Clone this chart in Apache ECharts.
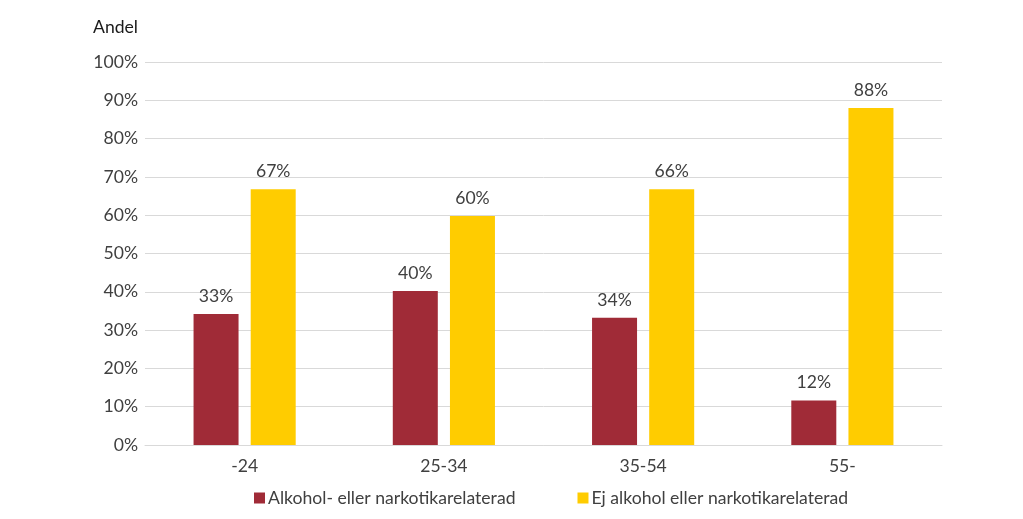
<!DOCTYPE html>
<html><head><meta charset="utf-8">
<script src="https://cdn.jsdelivr.net/npm/echarts@6/dist/echarts.min.js"></script>
<style>html,body{margin:0;padding:0;background:#fff}#c{width:1023px;height:519px}</style>
</head><body><div id="c"></div>
<script>
const categories = ['-24', '25-34', '35-54', '55-'];
const seriesNames = ['Alkohol- eller narkotikarelaterad', 'Ej alkohol eller narkotikarelaterad'];
const alkoholValues = [34.2, 40.2, 33.2, 11.6];
const alkoholLabels = ['33%', '40%', '34%', '12%'];
const ejValues = [66.8, 59.8, 66.8, 88];
const ejLabels = ['67%', '60%', '66%', '88%'];
const yTicks = [0, 10, 20, 30, 40, 50, 60, 70, 80, 90, 100];

const font = 'Lato, "Open Sans", sans-serif';
const fs = 17.6;
const chart = echarts.init(document.getElementById('c'));
function mkLabel(labels) {
  return {show: true, position: 'top', distance: 9, color: '#404040', fontSize: fs, fontFamily: font,
    formatter: p => labels[p.dataIndex]};
}
chart.setOption({
  animation: false,
  textStyle: {fontFamily: font},
  grid: {left: 145, right: 81, top: 62, bottom: 74, containLabel: false},
  title: {text: 'Andel', left: 88, top: 13, textStyle: {fontSize: fs, fontWeight: 'normal', color: '#1a1a1a', fontFamily: font}},
  legend: {bottom: 7, left: 249, itemWidth: 11, itemHeight: 11, itemGap: 62, icon: 'rect',
    textStyle: {fontSize: fs, color: '#404040', fontFamily: font, padding: [0, 0, 0, -2]},
    data: seriesNames},
  xAxis: {type: 'category', data: categories,
    axisLine: {show: true, lineStyle: {color: '#d9d9d9'}}, axisTick: {show: false},
    axisLabel: {color: '#404040', fontSize: fs, margin: 12, fontFamily: font}},
  yAxis: {type: 'value', min: yTicks[0], max: yTicks[yTicks.length - 1], interval: 10,
    axisLine: {show: false}, axisTick: {show: false},
    splitLine: {lineStyle: {color: '#d9d9d9'}},
    axisLabel: {formatter: '{value}%', color: '#404040', fontSize: fs, margin: 7, fontFamily: font}},
  series: [
    {name: seriesNames[0], type: 'bar', data: alkoholValues, barWidth: 45, barGap: '27%',
      itemStyle: {color: '#a02b37'}, label: mkLabel(alkoholLabels)},
    {name: seriesNames[1], type: 'bar', data: ejValues, barWidth: 45,
      itemStyle: {color: '#ffcc00'}, label: mkLabel(ejLabels)}
  ]
});
</script></body></html>
